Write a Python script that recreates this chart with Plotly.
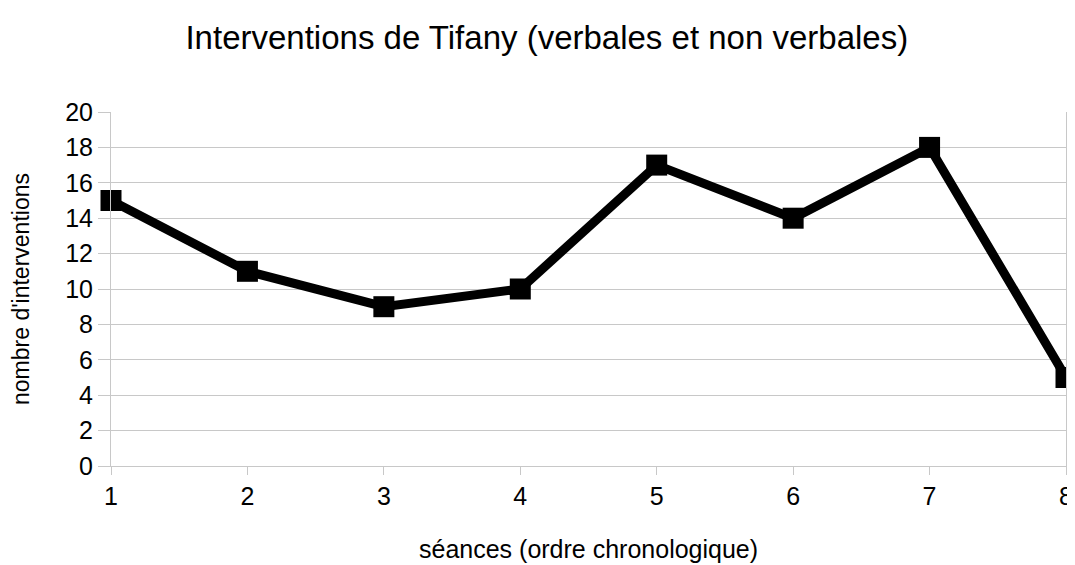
import plotly.graph_objects as go

seances = [1, 2, 3, 4, 5, 6, 7, 8]
interventions = [15, 11, 9, 10, 17, 14, 18, 5]

fig = go.Figure(data=go.Scatter(
    x=seances, y=interventions, mode="lines+markers",
    line={"color": "black", "width": 9},
    marker={"symbol": "square", "size": 21, "color": "black"},
    cliponaxis=False,
))

# page body has an 8px margin, so the figure is a bit smaller than the window
grid = "#c8c8c8"
fig.update_layout(
    width=1067, height=557,
    paper_bgcolor="white", plot_bgcolor="white",
    font={"family": "Liberation Sans, Arial, sans-serif", "color": "black"},
    margin={"l": 103, "r": 9, "t": 104, "b": 99},
    showlegend=False,
    title={"text": "Interventions de Tifany (verbales et non verbales)",
           "x": 0.505, "xanchor": "center", "y": 1 - 29 / 557, "yanchor": "middle",
           "font": {"size": 33}},
)
# x title as annotation so it sits lower than the axis title would
fig.add_annotation(text="séances (ordre chronologique)", xref="paper", yref="paper",
                   x=0.5, y=0, yshift=-83, xanchor="center", yanchor="middle",
                   showarrow=False, font={"size": 25})
fig.update_xaxes(
    range=[1, 8], tickmode="array", tickvals=seances,
    showgrid=False, showline=True, linecolor=grid, linewidth=1,
    ticks="outside", ticklen=8, tickcolor=grid, tickfont={"size": 25},
    ticklabeloverflow="allow",
    zeroline=False, automargin=False,
)
fig.update_yaxes(
    range=[0, 20], dtick=2,
    showgrid=True, gridcolor=grid, gridwidth=1,
    showline=True, linecolor=grid, linewidth=1, mirror=True,
    ticks="outside", ticklen=12, tickcolor=grid, tickfont={"size": 25},
    title={"text": "nombre d'interventions", "font": {"size": 23}, "standoff": 37},
    zeroline=False, automargin=False,
)

fig.write_html("out.html")
